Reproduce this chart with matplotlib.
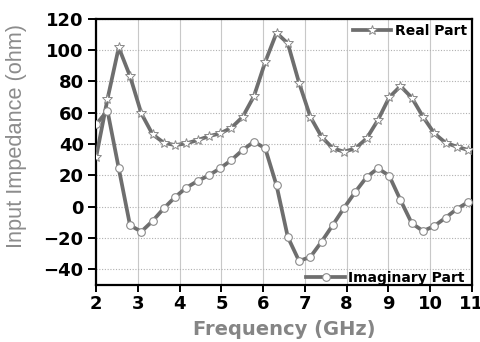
import matplotlib
matplotlib.use("Agg")
import matplotlib.pyplot as plt

freq = [2.00, 2.27, 2.54, 2.81, 3.08, 3.35, 3.62, 3.89, 4.16, 4.43, 4.70, 4.97,
        5.24, 5.51, 5.78, 6.05, 6.32, 6.59, 6.86, 7.13, 7.40, 7.67, 7.94, 8.21,
        8.48, 8.75, 9.02, 9.29, 9.56, 9.83, 10.10, 10.37, 10.64, 10.91, 11.00]
real_part = [31.9, 68.7, 101.7, 83.4, 59.6, 46.2, 40.8, 39.3, 40.4, 42.5, 45.0, 46.8,
             50.4, 57.4, 70.6, 92.5, 111.0, 104.3, 79.1, 57.4, 44.6, 37.2, 35.1, 37.2,
             43.6, 55.3, 69.8, 77.0, 69.6, 57.4, 46.8, 40.8, 38.3, 36.2, 35.5]
imag_part = [52.6, 61.3, 24.5, -11.9, -16.0, -9.2, -1.1, 6.1, 12.1, 16.4, 20.0, 24.5,
             29.8, 36.2, 41.5, 37.2, 13.6, -19.4, -34.7, -32.2, -22.4, -11.7, -0.7, 9.5,
             18.9, 24.5, 19.7, 4.2, -10.6, -15.6, -12.4, -7.1, -1.5, 2.9, 3.5]
xticks = [2, 3, 4, 5, 6, 7, 8, 9, 10, 11]
yticks = [-40, -20, 0, 20, 40, 60, 80, 100, 120]

plt.rcParams['font.family'] = ['DejaVu Sans']
fig = plt.figure(figsize=(4.81, 3.42), dpi=100)
ax = fig.add_axes([0.200, 0.167, 0.781, 0.778])

lc = '#6e6e6e'
mk = slice(0, 34)
l1, = ax.plot(freq, real_part, color=lc, lw=2.7, marker='*', markersize=7.5,
              markerfacecolor='white', markeredgecolor='#8a8a8a', markeredgewidth=0.7,
              markevery=mk, label='Real Part', zorder=3)
l2, = ax.plot(freq, imag_part, color=lc, lw=2.7, marker='o', markersize=5.5,
              markerfacecolor='white', markeredgecolor='#8a8a8a', markeredgewidth=0.8,
              markevery=mk, label='Imaginary Part', zorder=3)

ax.set_xlim(2, 11)
ax.set_ylim(-50, 120)
ax.set_xticks(xticks)
ax.set_yticks(yticks)
ax.xaxis.grid(True, color='#c8c8c8', lw=0.8, ls='-')
ax.yaxis.grid(True, color='#b0b0b0', lw=0.8, ls=(0, (1, 1.5)))
ax.set_axisbelow(True)
for s in ax.spines.values():
    s.set_linewidth(1.6)
    s.set_color('black')
ax.tick_params(axis='x', direction='out', length=5, width=1.4, labelsize=13, pad=2)
ax.tick_params(axis='y', direction='out', length=6, width=1.4, labelsize=13, pad=3)
for lab in ax.get_xticklabels() + ax.get_yticklabels():
    lab.set_fontweight('bold')

ax.set_xlabel('Frequency (GHz)', fontsize=14, fontweight='bold', color='#858585', labelpad=5)
ax.set_ylabel('Input Impedance (ohm)', fontsize=15.7, family=['Liberation Sans', 'DejaVu Sans'],
              color='#8c8c8c')
ax.yaxis.set_label_coords(-0.184, 0.56)

leg1 = ax.legend(handles=[l1], loc='upper right', frameon=False,
                 prop={'weight': 'bold', 'size': 10}, handlelength=2.8,
                 handletextpad=0.25, borderaxespad=0.0, borderpad=0.35)
ax.add_artist(leg1)
ax.legend(handles=[l2], loc='lower right', bbox_to_anchor=(0.989, -0.011), frameon=False,
          prop={'weight': 'bold', 'size': 10}, handlelength=2.8,
          handletextpad=0.25, borderaxespad=0.0, borderpad=0.2)

fig.savefig('out.png', dpi=100)
